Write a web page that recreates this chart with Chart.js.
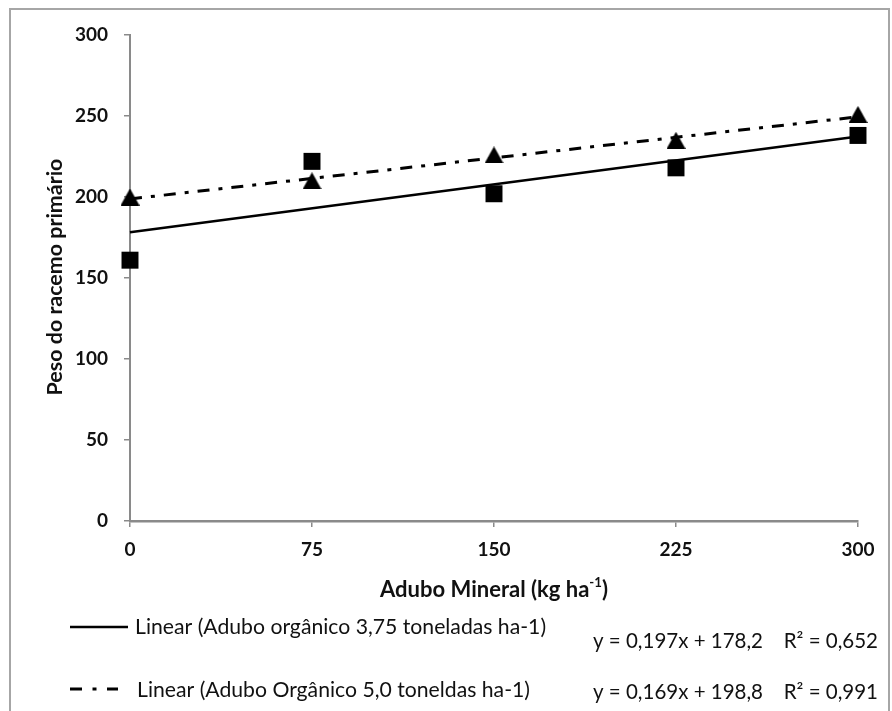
<!DOCTYPE html>
<html>
<head>
<meta charset="utf-8">
<script src="https://cdn.jsdelivr.net/npm/chart.js@4/dist/chart.umd.min.js"></script>
<style>
  html, body { margin: 0; padding: 0; background: #fff; }
  canvas { display: block; }
</style>
</head>
<body>
<canvas id="c" width="892" height="711"></canvas>
<script>
// ---- data ----
const doses = [0, 75, 150, 225, 300];               // Adubo Mineral (kg ha-1)
const adubo375 = [161, 222, 202, 218, 238];         // Adubo orgânico 3,75 t ha-1 (squares)
const adubo50 = [200, 210, 226, 235, 251];          // Adubo orgânico 5,0 t ha-1 (triangles)
const trendX = [0, 300];
const trend375 = [178.2, 237.3];                    // y = 0,197x + 178,2
const trend50 = [198.8, 249.5];                     // y = 0,169x + 198,8
const xTickStep = 75;
const yTickStep = 50;
const yTitle = 'Peso do racemo primário';
const xTitleMain = 'Adubo Mineral (kg ha';
const xTitleSup = '-1';
const legendLabels = ['Linear (Adubo orgânico 3,75 toneladas ha-1)', 'Linear (Adubo Orgânico 5,0 toneldas ha-1)'];
const equations = ['y = 0,197x + 178,2', 'y = 0,169x + 198,8'];
const r2Labels = ['R² = 0,652', 'R² = 0,991'];

const pts = (xs, ys) => xs.map((x, i) => ({ x: x, y: ys[i] }));

const FONT = 'Lato, "Open Sans", "Liberation Sans", sans-serif';
const TXT = '#111111';
const AX = '#8a8a8a';

// triangle marker centred on its bounding box (Excel style)
function makeTriangle(w, h) {
  const c = document.createElement('canvas');
  c.width = w; c.height = h;
  const g = c.getContext('2d');
  g.fillStyle = '#000';
  g.beginPath();
  g.moveTo(w / 2, 0);
  g.lineTo(w, h);
  g.lineTo(0, h);
  g.closePath();
  g.fill();
  return c;
}
const triMarker = makeTriangle(19, 17);

function fitSize(ctx, text, weight, target) {
  ctx.font = weight + ' 100px ' + FONT;
  const w = ctx.measureText(text).width;
  return 100 * target / w;
}

const decor = {
  id: 'decor',
  beforeDraw(chart) {
    const ctx = chart.ctx;
    ctx.save();
    ctx.fillStyle = '#fff';
    ctx.fillRect(0, 0, chart.width, chart.height);
    ctx.strokeStyle = '#a6a6a6';
    ctx.lineWidth = 2;
    ctx.strokeRect(10, 9, 879, 760);
    ctx.restore();
  },
  afterDraw(chart) {
    const ctx = chart.ctx;
    const area = chart.chartArea;
    ctx.save();
    ctx.fillStyle = TXT;

    // Y axis title
    let s = fitSize(ctx, yTitle, 'bold', 237);
    ctx.font = 'bold ' + s.toFixed(2) + 'px ' + FONT;
    ctx.translate(55, 277);
    ctx.rotate(-Math.PI / 2);
    ctx.textAlign = 'center';
    ctx.textBaseline = 'middle';
    ctx.fillText(yTitle, 0, 0);
    ctx.setTransform(1, 0, 0, 1, 0, 0);

    // X axis title with superscript
    const cx = (area.left + area.right) / 2;
    ctx.font = 'bold 100px ' + FONT;
    const wMain100 = ctx.measureText(xTitleMain).width + ctx.measureText(')').width;
    ctx.font = 'bold 60px ' + FONT;
    const wSup100 = ctx.measureText(xTitleSup).width;
    const xs = 100 * 228 / (wMain100 + wSup100);
    ctx.font = 'bold ' + xs.toFixed(2) + 'px ' + FONT;
    const wA = ctx.measureText(xTitleMain).width;
    const wC = ctx.measureText(')').width;
    ctx.font = 'bold ' + (xs * 0.6).toFixed(2) + 'px ' + FONT;
    const wS = ctx.measureText(xTitleSup).width;
    const total = wA + wS + wC;
    let x0 = cx - total / 2;
    const yT = 590;
    ctx.textAlign = 'left';
    ctx.textBaseline = 'middle';
    ctx.font = 'bold ' + xs.toFixed(2) + 'px ' + FONT;
    ctx.fillText(xTitleMain, x0, yT);
    ctx.font = 'bold ' + (xs * 0.6).toFixed(2) + 'px ' + FONT;
    ctx.fillText(xTitleSup, x0 + wA, yT - xs * 0.33);
    ctx.font = 'bold ' + xs.toFixed(2) + 'px ' + FONT;
    ctx.fillText(')', x0 + wA + wS, yT);

    // Legend
    const ls = fitSize(ctx, legendLabels[0], 'normal', 411);
    ctx.font = ls.toFixed(2) + 'px ' + FONT;
    ctx.strokeStyle = '#000';
    ctx.lineWidth = 2.5;
    ctx.beginPath();
    ctx.moveTo(70, 627); ctx.lineTo(128, 627);
    ctx.stroke();
    ctx.lineWidth = 3;
    ctx.beginPath();
    ctx.moveTo(70, 689); ctx.lineTo(82, 689);
    ctx.moveTo(92.5, 689); ctx.lineTo(96.5, 689);
    ctx.moveTo(107, 689); ctx.lineTo(118, 689);
    ctx.stroke();

    ctx.textAlign = 'left';
    ctx.textBaseline = 'middle';
    ctx.fillText(legendLabels[0], 135, 627);
    ctx.fillText(legendLabels[1], 137, 690);

    const es = fitSize(ctx, equations[0], 'normal', 170);
    ctx.font = es.toFixed(2) + 'px ' + FONT;
    ctx.fillText(equations[0], 593, 641);
    ctx.fillText(equations[1], 593, 692);
    ctx.textAlign = 'right';
    ctx.fillText(r2Labels[0], 878, 641);
    ctx.fillText(r2Labels[1], 878, 692);
    ctx.restore();
  }
};

const tickFont = { family: FONT, size: 19, weight: 'bold' };

new Chart(document.getElementById('c'), {
  type: 'scatter',
  data: {
    datasets: [
      {
        label: 'Linear (Adubo orgânico 3,75 toneladas ha-1)',
        data: pts(trendX, trend375),
        showLine: true,
        borderColor: '#000',
        borderWidth: 2.5,
        pointRadius: 0,
        clip: false
      },
      {
        label: 'Linear (Adubo Orgânico 5,0 toneldas ha-1)',
        data: pts(trendX, trend50),
        showLine: true,
        borderColor: '#000',
        borderWidth: 3,
        borderDash: [12, 9, 4, 9],
        pointRadius: 0,
        clip: false
      },
      {
        label: 'Adubo orgânico 3,75 toneladas ha-1',
        data: pts(doses, adubo375),
        pointStyle: 'rect',
        pointRadius: 12,
        backgroundColor: '#000',
        borderColor: '#000',
        borderWidth: 0,
        clip: false
      },
      {
        label: 'Adubo Orgânico 5,0 toneldas ha-1',
        data: pts(doses, adubo50),
        pointStyle: triMarker,
        pointRadius: 10,
        backgroundColor: '#000',
        borderColor: '#000',
        borderWidth: 0,
        clip: false
      }
    ]
  },
  options: {
    responsive: false,
    animation: false,
    devicePixelRatio: 1,
    layout: { padding: { left: 0, top: 35, right: 34, bottom: 0 } },
    plugins: {
      legend: { display: false },
      tooltip: { enabled: false },
      title: { display: false }
    },
    scales: {
      x: {
        type: 'linear',
        min: 0, max: 300,
        ticks: { stepSize: xTickStep, color: TXT, font: tickFont, padding: 11, maxRotation: 0 },
        grid: { drawOnChartArea: false, drawTicks: true, tickLength: 6, color: AX, lineWidth: 1.5 },
        border: { display: true, color: AX, width: 2.5 },
        afterFit(scale) { scale.height = 190; }
      },
      y: {
        type: 'linear',
        min: 0, max: 300,
        ticks: { stepSize: yTickStep, color: TXT, font: tickFont, padding: 16 },
        grid: { drawOnChartArea: false, drawTicks: true, tickLength: 6, color: AX, lineWidth: 1.5 },
        border: { display: true, color: AX, width: 2 },
        afterFit(scale) { scale.width = 130; }
      }
    }
  },
  plugins: [decor]
});
</script>
</body>
</html>
